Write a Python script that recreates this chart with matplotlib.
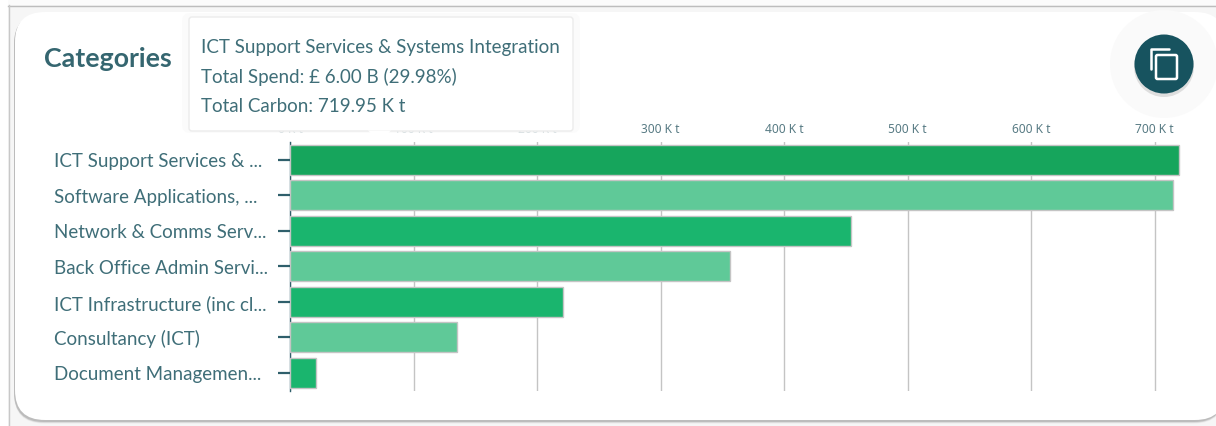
import matplotlib
matplotlib.use("Agg")
from matplotlib import pyplot as plt
from matplotlib.patches import FancyBboxPatch, Circle, Polygon, Rectangle

categories = ['ICT Support Services & ...', 'Software Applications, ...', 'Network & Comms Serv...',
              'Back Office Admin Servi...', 'ICT Infrastructure (inc cl...', 'Consultancy (ICT)',
              'Document Managemen...']
carbon = [719.95, 715, 454, 356, 221, 135, 21]
bar_colors = ['#16a55c', '#5fc998', '#1ab56e', '#5fc998', '#1ab56e', '#5fc998', '#1ab56e']
x_ticks = [0, 100, 200, 300, 400, 500, 600, 700]
tooltip_lines = ['ICT Support Services & Systems Integration',
                 'Total Spend: £ 6.00 B (29.98%)',
                 'Total Carbon: 719.95 K t']

W, H = 1216, 427
teal = '#3f6e78'
plt.rcParams['font.family'] = ['Lato', 'DejaVu Sans']

fig = plt.figure(figsize=(W / 100, H / 100), dpi=100, facecolor='#f6f6f6')

# page background, drawn in pixel coordinates
bg = fig.add_axes([0, 0, 1, 1], zorder=0)
bg.set_xlim(0, W)
bg.set_ylim(H, 0)
bg.axis('off')
bg.add_patch(Rectangle((0, 0), W, 6, fc='#fbfbfb', ec='none'))
bg.add_patch(Rectangle((0, 0), 8, H, fc='#ffffff', ec='none'))
bg.plot([8, W], [6.5, 6.5], color='#bdbdbd', lw=1)
bg.plot([8.5, 8.5], [6, H], color='#c8c8c8', lw=1)
# card shadow + card
for grow, col in [(5, '#ececec'), (3.5, '#d6d6d6'), (2, '#bcbcbc')]:
    bg.add_patch(FancyBboxPatch((14 + 30, 14 + 30 + grow * 0.5), 1210 - 60, 408 - 60,
                                boxstyle='round,pad=30,rounding_size=30', fc=col, ec='none'))
bg.add_patch(FancyBboxPatch((15 + 30, 13 + 30), 1210 - 60, 408 - 60,
                            boxstyle='round,pad=30,rounding_size=30', fc='white', ec='none'))
bg.text(44, 59, 'Categories', fontsize=19.3, fontweight='bold', color='#356670', va='center', ha='left')

# the chart
ax_top, ax_bottom = 143.2, 391.5
ax = fig.add_axes([290 / W, 1 - ax_bottom / H, (1187 - 290) / W, (ax_bottom - ax_top) / H], zorder=1)
ax.patch.set_alpha(0)
y_pos = list(range(len(categories)))
ax.barh(y_pos, carbon, height=0.85, color=bar_colors, edgecolor='#c4c4c4', linewidth=1, zorder=3)
ax.set_xlim(0, (1187 - 290) / 1.235)
ax.set_ylim(len(categories) - 0.5, -0.5)
ax.xaxis.tick_top()
ax.set_xticks(x_ticks)
ax.set_xticklabels([f'{v} K t' for v in x_ticks], fontsize=8.6, color='#587b84', family='Noto Sans', fontweight='medium')
ax.tick_params(axis='x', length=0, pad=5)
ax.grid(axis='x', color='#c4c4c4', lw=1, zorder=0)
ax.set_yticks(y_pos)
ax.set_yticklabels([])
ax.tick_params(axis='y', length=9, width=1.6, color='#2f5f6b')
for s in ['top', 'right', 'bottom']:
    ax.spines[s].set_visible(False)
ax.spines['left'].set_color('#2f5f6b')
ax.spines['left'].set_linewidth(1)
for y, name in zip(y_pos, categories):
    ax.annotate(name, xy=(0, y), xycoords=('data', 'data'), xytext=(54 - 290, -1), textcoords='offset pixels',
                fontsize=13.5, color=teal, va='center', ha='left')

# tooltip and copy button on top
top = fig.add_axes([0, 0, 1, 1], zorder=2)
top.set_xlim(0, W)
top.set_ylim(H, 0)
top.axis('off')
top.add_patch(FancyBboxPatch((182, 14), 398, 120, boxstyle='round,pad=0,rounding_size=8', fc='#fbfbfb', ec='none', alpha=0.8))
top.add_patch(FancyBboxPatch((189, 18), 384, 114, boxstyle='round,pad=0,rounding_size=3',
                             fc='white', ec='#ececec', lw=1))
top.add_patch(Polygon([[368, 131.5], [391, 131.5], [379.5, 142]], fc='white', ec='none'))
for y, line in zip([47, 77, 106], tooltip_lines):
    top.text(201, y, line, fontsize=13.5, color=teal, va='center', ha='left')

top.add_patch(Circle((1164, 65), 54, fc='#fafafa', ec='none'))
top.add_patch(Circle((1164, 68), 30, fc='#dedede', ec='none'))
top.add_patch(Circle((1164, 65), 29.5, fc='#17535f', ec='none'))
top.plot([1150.5, 1150.5, 1169], [70, 50, 50], color='white', lw=1.8, solid_capstyle='round')
top.add_patch(FancyBboxPatch((1156, 56), 21, 24, boxstyle='round,pad=0,rounding_size=1.5',
                             fc='none', ec='white', lw=1.8))

fig.savefig('out.png', dpi=100, facecolor=fig.get_facecolor())
